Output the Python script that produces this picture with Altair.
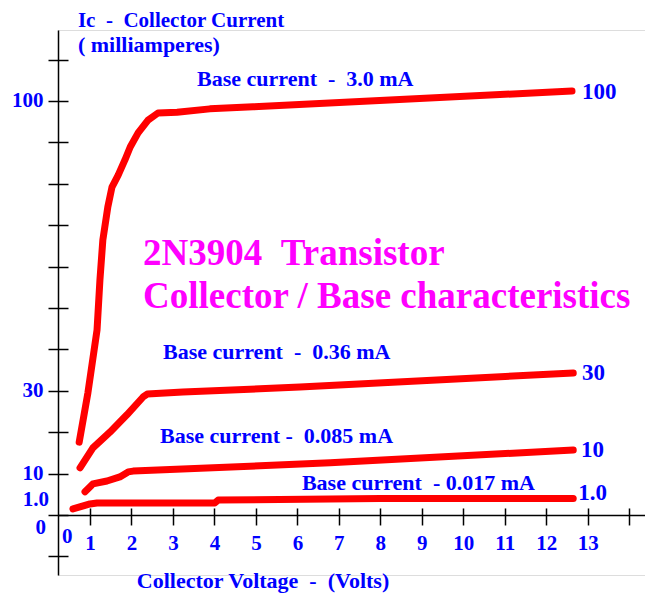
import altair as alt
import pandas as pd

NB = "\u00a0"  # keeps double spaces visible

# ---- data (volts, milliamperes) ----
series_names = ["3.0 mA", "0.36 mA", "0.085 mA", "0.017 mA"]
v_30 = [0.74, 0.95, 1.17, 1.24, 1.31, 1.43, 1.53, 1.68, 1.84, 1.97, 2.16, 2.40, 2.64, 3.10, 3.89, 4.93, 12.62]
i_30 = [17.6, 29.5, 44.7, 56.8, 66.4, 74.4, 79.2, 82.1, 85.7, 88.9, 92.3, 95.4, 97.1, 97.3, 98.1, 98.6, 102.4]
v_036 = [0.76, 1.07, 1.48, 1.89, 2.28, 2.38, 3.24, 6.06, 12.65]
i_036 = [11.4, 16.2, 20.0, 24.2, 28.5, 29.2, 29.7, 30.9, 34.3]
v_0085 = [0.88, 1.07, 1.41, 1.72, 1.92, 2.04, 6.79, 12.65]
i_0085 = [5.6, 7.5, 8.2, 9.2, 10.4, 10.6, 12.6, 15.7]
v_0017 = [0.59, 1.00, 1.17, 4.01, 4.09, 8.0, 12.65]
i_0017 = [1.45, 2.66, 2.9, 2.9, 3.6, 4.0, 4.0]

y_ticks = [-10, 0, 10, 20, 30, 40, 50, 60, 70, 80, 90, 100, 110]
y_labeled = [10, 30, 100]
x_ticks = list(range(1, 15))
x_labeled_max = 13

# annotations: text, x (V), y (mA)
top_texts = [f"Ic {NB}-{NB} Collector Current"]
top_x = [0.71]
top_y = [117.9]

blue_texts = ["( milliamperes)",
              f"Base current {NB}-{NB} 3.0 mA", f"Base current {NB}-{NB} 0.36 mA",
              f"Base current - {NB}0.085 mA", f"Base current {NB}- 0.017 mA",
              f"Collector Voltage {NB}-{NB} (Volts)"]
blue_x = [0.71, 3.58, 2.76, 2.69, 6.11, 2.13]
blue_y = [113.5, 105.3, 39.4, 19.1, 7.7, -15.9]

end_texts = ["100", "30", "10", "1.0"]
end_x = [12.86, 12.86, 12.84, 12.77]
end_y = [102.2, 34.3, 15.7, 5.3]

extra_texts = ["1.0", "0"]
extra_x = [0.01, -0.06]
extra_y = [3.6, -3.1]
zero_x_text = ["0"]
zero_x = [0.45]
zero_y = [-5.3]

title_texts = [f"2N3904 {NB}Transistor", "Collector / Base characteristics"]
title_x = [2.28, 2.28]
title_y = [63.0, 52.7]

# ---- tables ----
rows = []
for name, vs, cs in zip(series_names, [v_30, v_036, v_0085, v_0017], [i_30, i_036, i_0085, i_0017]):
    for k, (v, c) in enumerate(zip(vs, cs)):
        rows.append({"series": name, "order": k, "V": v, "I": c})
curves = pd.DataFrame(rows)

top_df = pd.DataFrame({"t": top_texts, "V": top_x, "I": top_y})
blue_df = pd.DataFrame({"t": blue_texts, "V": blue_x, "I": blue_y})
end_df = pd.DataFrame({"t": end_texts, "V": end_x, "I": end_y})
extra_df = pd.DataFrame({"t": extra_texts, "V": extra_x, "I": extra_y})
zero_df = pd.DataFrame({"t": zero_x_text, "V": zero_x, "I": zero_y})
title_df = pd.DataFrame({"t": title_texts, "V": title_x, "I": title_y})

# ---- scales / layout ----
W, H = 587, 545
x_dom = [0.229, 14.38]
y_dom = [-14.5, 117.15]
x_axis_off = -H * (0 - y_dom[0]) / (y_dom[1] - y_dom[0])

FONT = "Liberation Serif"
BLUE = "#0000FF"
xs = alt.Scale(domain=x_dom, nice=False, zero=False)
ys = alt.Scale(domain=y_dom, nice=False, zero=False)

lab_expr_y = " || ".join(f"datum.value == {v}" for v in y_labeled)

x_main = alt.Axis(orient="bottom", offset=x_axis_off, values=x_ticks, tickSize=10,
                  labelExpr=f"datum.value <= {x_labeled_max} ? datum.label : ''",
                  labelFont=FONT, labelFontSize=21, labelFontWeight="bold", labelColor=BLUE,
                  labelPadding=8, domainColor="black", tickColor="black", domainWidth=1.5,
                  tickWidth=1.5, grid=False, title=None)
y_main = alt.Axis(orient="left", values=y_ticks, tickSize=10,
                  labelExpr=f"({lab_expr_y}) ? datum.label : ''",
                  labelFont=FONT, labelFontSize=21, labelFontWeight="bold", labelColor=BLUE,
                  labelPadding=5, domainColor="black", tickColor="black", domainWidth=1.5,
                  tickWidth=1.5, grid=False, title=None)
x_sec = alt.Axis(orient="top", offset=-(H + x_axis_off), values=x_ticks, tickSize=7,
                 labels=False, domain=False, tickColor="black", tickWidth=1.5, grid=False, title=None)
y_sec = alt.Axis(orient="right", offset=-W, values=y_ticks, tickSize=10,
                 labels=False, domain=False, tickColor="black", tickWidth=1.5, grid=False, title=None)

lines = alt.Chart(curves).mark_line(color="#FF0000", strokeWidth=7, strokeCap="round",
                                     strokeJoin="round").encode(
    x=alt.X("V:Q", scale=xs, axis=x_main),
    y=alt.Y("I:Q", scale=ys, axis=y_main),
    detail="series:N",
    order="order:Q",
)

ends = alt.Chart(end_df).mark_text(align="left", baseline="middle", font=FONT, fontSize=23,
                                   fontWeight="bold", color=BLUE).encode(
    x=alt.X("V:Q", scale=xs, axis=x_sec),
    y=alt.Y("I:Q", scale=ys, axis=y_sec),
    text="t:N",
)

top = alt.Chart(top_df).mark_text(align="left", baseline="alphabetic", font=FONT, fontSize=21,
                                  fontWeight="bold", color=BLUE).encode(
    x=alt.X("V:Q", scale=xs, axis=None),
    y=alt.Y("I:Q", scale=ys, axis=None),
    text="t:N",
)

blue = alt.Chart(blue_df).mark_text(align="left", baseline="middle", font=FONT, fontSize=22,
                                    fontWeight="bold", color=BLUE).encode(
    x=alt.X("V:Q", scale=xs, axis=None),
    y=alt.Y("I:Q", scale=ys, axis=None),
    text="t:N",
)

extra = alt.Chart(extra_df).mark_text(align="right", baseline="middle", font=FONT, fontSize=21,
                                      fontWeight="bold", color=BLUE).encode(
    x=alt.X("V:Q", scale=xs, axis=None),
    y=alt.Y("I:Q", scale=ys, axis=None),
    text="t:N",
)

zero = alt.Chart(zero_df).mark_text(align="center", baseline="middle", font=FONT, fontSize=21,
                                    fontWeight="bold", color=BLUE).encode(
    x=alt.X("V:Q", scale=xs, axis=None),
    y=alt.Y("I:Q", scale=ys, axis=None),
    text="t:N",
)

title = alt.Chart(title_df).mark_text(align="left", baseline="middle", font=FONT, fontSize=37,
                                      fontWeight="bold", color="#FF00FF").encode(
    x=alt.X("V:Q", scale=xs, axis=None),
    y=alt.Y("I:Q", scale=ys, axis=None),
    text="t:N",
)

chart = alt.layer(lines, ends, top, blue, extra, zero, title).resolve_axis(
    x="independent", y="independent"
).properties(
    width=W, height=H,
    autosize=alt.AutoSizeParams(type="none"),
    padding={"left": 50, "top": 22, "right": 0, "bottom": 20},
).configure_view(stroke=None).configure(background="white")

chart.save("out.html", embed_options={"renderer": "svg", "actions": False})
